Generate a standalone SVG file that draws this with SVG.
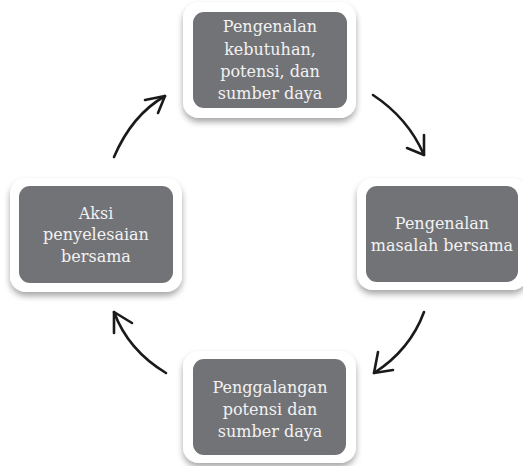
<svg xmlns="http://www.w3.org/2000/svg" width="523" height="466" viewBox="0 0 523 466">
<defs>
<filter id="sh" x="-20%" y="-20%" width="140%" height="150%">
<feDropShadow dx="0" dy="4" stdDeviation="3" flood-color="#000" flood-opacity="0.35"/>
</filter>
</defs>
<style>
.frame{fill:#ffffff;filter:url(#sh)}
.box{fill:#727377}
.t{font-family:"DejaVu Serif","Liberation Serif",serif;font-size:16px;fill:#f2f2f2;text-anchor:middle}
.c{fill:none;stroke:#1a1a1a;stroke-width:2.6;stroke-linecap:round;stroke-linejoin:round}
</style>
<rect width="523" height="466" fill="#ffffff"/>
<g id="n1">
<rect class="frame" x="183" y="2" width="173" height="116" rx="16"/>
<rect class="box" x="193" y="12" width="154" height="96" rx="11"/>
<text class="t"><tspan x="270" y="32">Pengenalan</tspan><tspan x="270" y="55">kebutuhan,</tspan><tspan x="270" y="77">potensi, dan</tspan><tspan x="270" y="99">sumber daya</tspan></text>
</g>
<g id="n2">
<rect class="frame" x="357" y="178" width="171" height="112" rx="16"/>
<rect class="box" x="366" y="186" width="152" height="96" rx="11"/>
<text class="t"><tspan x="442" y="229">Pengenalan</tspan><tspan x="442" y="251">masalah bersama</tspan></text>
</g>
<g id="n3">
<rect class="frame" x="183" y="351" width="173" height="112" rx="16"/>
<rect class="box" x="193" y="359" width="153" height="96" rx="11"/>
<text class="t"><tspan x="270" y="393">Penggalangan</tspan><tspan x="270" y="415">potensi dan</tspan><tspan x="270" y="437">sumber daya</tspan></text>
</g>
<g id="n4">
<rect class="frame" x="10" y="178" width="172" height="114" rx="16"/>
<rect class="box" x="19" y="186" width="154" height="97" rx="11"/>
<text class="t"><tspan x="96" y="219">Aksi</tspan><tspan x="96" y="240">penyelesaian</tspan><tspan x="96" y="262">bersama</tspan></text>
</g>
<g id="connectors">
<path class="c" d="M373,95 Q408,118 424,155"/>
<path class="c" d="M424,135 L424,155 L407,148"/>
<path class="c" d="M424,312 Q410,350 374,373"/>
<path class="c" d="M378,352 L374,373 L393,370"/>
<path class="c" d="M166,373 Q128,350 114,312"/>
<path class="c" d="M132,323 L114,312 L114,333"/>
<path class="c" d="M114,157 Q132,115 165,96"/>
<path class="c" d="M145,100 L165,96 L158,113"/>
</g>
</svg>
